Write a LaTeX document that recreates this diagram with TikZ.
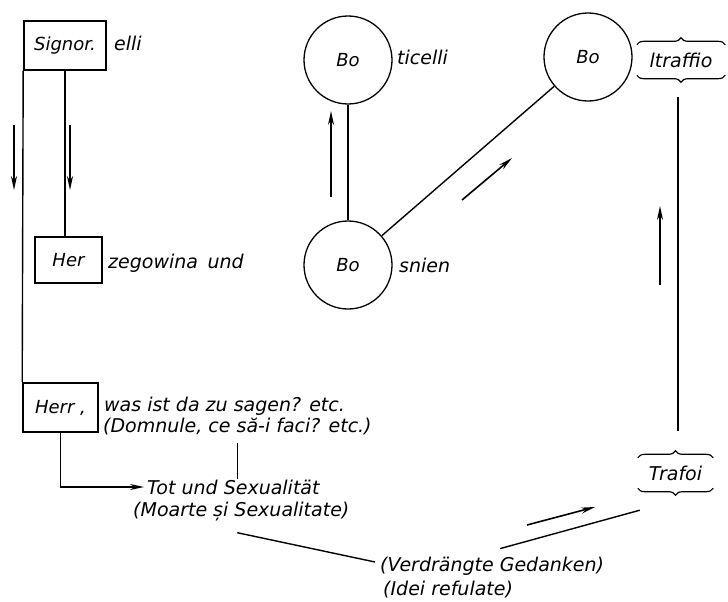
\documentclass[tikz,border=0pt]{standalone}
\usepackage{fontspec}
\setmainfont{DejaVu Sans}
\usetikzlibrary{arrows.meta,decorations.pathreplacing,calc}

\begin{document}
\begin{tikzpicture}[x=1pt,y=-1pt,
  lbl/.style={font=\itshape\fontsize{19}{22}\selectfont, inner sep=0pt},
  namebox/.style={draw, line width=1.6pt, font=\itshape\fontsize{18}{22}\selectfont},
  ring/.style={circle, draw, line width=1.3pt, minimum size=88pt, inner sep=0pt,
    font=\itshape\fontsize{18}{22}\selectfont},
  conn/.style={line width=1.4pt},
  flow/.style={line width=1.6pt, -{Stealth[length=14pt,width=6pt]}},
  bracetop/.style={line width=1.2pt, decorate, decoration={brace, amplitude=7pt}},
  bracebot/.style={line width=1.2pt, decorate, decoration={brace, mirror, amplitude=7pt}}]
\useasboundingbox (0,0) rectangle (728,602);

% left column: the name boxes
\node[namebox, minimum width=82pt, minimum height=49pt] (signor) at (65,45.5) {Signor.};
\node[lbl, anchor=west] (elli) at (114,43) {elli};
\node[namebox, minimum width=67pt, minimum height=46pt] (her) at (68.5,260) {Her};
\node[lbl, anchor=west] (zeg) at (108,263) {zegowina\enspace und};
\node[namebox, minimum width=75pt, minimum height=49pt] (herr) at (60.5,407.5) {Herr ,};
\node[lbl, anchor=west] (was) at (104,406) {was ist da zu sagen? etc.};
\node[lbl, anchor=west] (dom) at (103,427) {(Domnule, ce să-i faci? etc.)};
\node[lbl, anchor=west] (tot) at (147,487) {Tot und Sexualität};
\node[lbl, anchor=west] (moarte) at (133,512) {(Moarte și Sexualitate)};
\node[lbl, anchor=west] (verd) at (380,566) {(Verdrängte Gedanken)};
\node[lbl, anchor=west] (idei) at (383,590) {(Idei refulate)};

% right part: the three circles
\node[ring] (botti) at (348,60) {Bo};
\node[lbl, anchor=west] (ticelli) at (397,57) {ticelli};
\node[ring] (boltr) at (588,57) {Bo};
\node[lbl, minimum width=88pt, minimum height=30pt] (ltraffio) at (681,60) {ltraffio};
\node[ring] (bosn) at (348,265) {Bo};
\node[lbl, anchor=west] (snien) at (399,265) {snien};
\node[lbl, minimum width=75pt, minimum height=30pt] (trafoi) at (675.5,473) {Trafoi};

% braces
\draw[bracetop] (ltraffio.north west) -- (ltraffio.north east);
\draw[bracebot] (ltraffio.south west) -- (ltraffio.south east);
\draw[bracetop] (trafoi.north west) -- (trafoi.north east);
\draw[bracebot] (trafoi.south west) -- (trafoi.south east);

% connectors
\draw[conn] (signor.south west) -- (herr.north west);
\draw[conn] (signor.south) -- (signor.south |- her.north);
\draw[flow] (herr.south) |- ([xshift=-3pt]tot.west);
\draw[conn] ([yshift=-7pt]dom.south) -- (dom.south |- tot.north);
\draw[conn] ($(moarte.south)+(-4,11)$) -- ($(verd.west)+(-5,-4)$);
\draw[conn] ($(verd.north)+(8,-8)$) -- ($(trafoi.south west)+(2,22)$);
\draw[conn] ($(trafoi.north)+(2.5,-27)$) -- ($(trafoi.north |- ltraffio.south)+(2.5,22)$);
\draw[conn] (botti) -- (bosn);
\draw[conn] (bosn) -- (boltr);

% direction arrows
\draw[flow] (14,125) -- (14,190);
\draw[flow] (70,125) -- (70,190);
\draw[flow] (331,197) -- (331,111);
\draw[flow] (462,200) -- (512,158);
\draw[flow] (660,285) -- (660,206);
\draw[flow] (527,525) -- (595,507);
\end{tikzpicture}
\end{document}
